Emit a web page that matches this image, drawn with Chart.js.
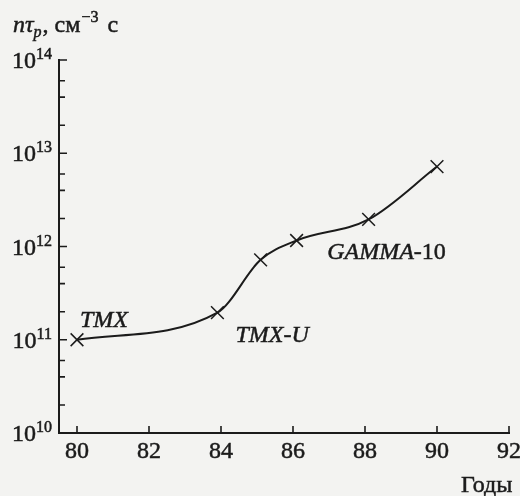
<!DOCTYPE html>
<html>
<head>
<meta charset="utf-8">
<script src="https://cdn.jsdelivr.net/npm/chart.js@4.4.1/dist/chart.umd.min.js"></script>
<style>
    html, body { margin: 0; padding: 0; background: #f3f3f1; }
    #wrap { width: 520px; height: 496px; }
</style>
</head>
<body>
<div id="wrap"><canvas id="chart" width="520" height="496"></canvas></div>
<script>
// data
const years = [80, 83.9, 85.1, 86.1, 88.1, 90];
const ntau = [1e11, 1.95e11, 7.2e11, 1.16e12, 1.95e12, 7.2e12];
const xTicks = [80, 82, 84, 86, 88, 90, 92];
const yExponents = [10, 11, 12, 13, 14];
const yMinor = [2, 4, 6];

const INK = '#1b1b1b';
const SERIF = 'Liberation Serif';

// device labels, anchored in data coords (left edge / baseline)
const deviceLabels = [
    { parts: [['TMX', 'italic']], x: 80.08, y: 1.38e11 },
    { parts: [['TMX-U', 'italic']], x: 84.4, y: 0.94e11 },
    { parts: [['GAMMA', 'italic'], ['-10', 'normal']], x: 86.95, y: 7.4e11 }
];

// scanned print looks a bit heavier than plain regular weight
function inkText(ctx, s, x, y) {
    ctx.fillText(s, x, y);
    ctx.strokeText(s, x, y);
}

// parts: [text, style, size, dy, gapBefore]
function drawParts(ctx, parts, x, y) {
    parts.forEach(p => {
        ctx.font = `${p[1]} ${p[2] || 24}px "${SERIF}"`;
        x += p[4] || 0;
        inkText(ctx, p[0], x, y + (p[3] || 0));
        x += ctx.measureText(p[0]).width;
    });
}

const axisPlugin = {
    id: 'axisPlugin',
    afterDraw(chart) {
        const ctx = chart.ctx;
        const xs = chart.scales.x;
        const ys = chart.scales.y;
        const left = chart.chartArea.left;
        const bottom = chart.chartArea.bottom;

        ctx.save();
        ctx.strokeStyle = INK;
        ctx.fillStyle = INK;
        ctx.lineWidth = 1.6;

        /* ---- tick marks (inside) ---- */
        ctx.beginPath();
        xTicks.forEach(v => {
            const px = xs.getPixelForValue(v);
            ctx.moveTo(px, bottom);
            ctx.lineTo(px, bottom - 7);
        });
        yExponents.forEach(e => {
            const py = ys.getPixelForValue(Math.pow(10, e));
            ctx.moveTo(left, py);
            ctx.lineTo(left + 8, py);
            if (e < 14) {
                yMinor.forEach(m => {
                    const pm = ys.getPixelForValue(m * Math.pow(10, e));
                    ctx.moveTo(left, pm);
                    ctx.lineTo(left + 6, pm);
                });
            }
        });
        ctx.stroke();

        ctx.lineWidth = 0.5;
        ctx.textBaseline = 'alphabetic';

        /* ---- x labels ---- */
        ctx.textAlign = 'center';
        ctx.font = `24px "${SERIF}"`;
        xTicks.forEach(v => {
            inkText(ctx, String(v), xs.getPixelForValue(v), bottom + 25);
        });

        /* ---- y labels 10^n ---- */
        ctx.textAlign = 'left';
        yExponents.forEach(e => {
            const py = ys.getPixelForValue(Math.pow(10, e));
            ctx.font = `16px "${SERIF}"`;
            const ew = ctx.measureText(String(e)).width;
            ctx.font = `24px "${SERIF}"`;
            const bw = ctx.measureText('10').width;
            const right = 52;
            inkText(ctx, '10', right - ew - bw, py + 8);
            ctx.font = `16px "${SERIF}"`;
            inkText(ctx, String(e), right - ew, py - 1);
        });

        /* ---- axis title ---- */
        drawParts(ctx, [
            ['n', 'italic', 24],
            ['τ', 'italic', 24],
            ['p', 'italic', 16, 5],
            [', см', 'normal', 24, 0, 1],
            ['−3', 'normal', 16, -10, 1],
            ['с', 'normal', 24, 0, 9]
        ], 13, 32);

        ctx.font = `24px "${SERIF}"`;
        inkText(ctx, 'Годы', 461, 492);

        /* ---- device labels ---- */
        deviceLabels.forEach(l => {
            drawParts(ctx, l.parts, xs.getPixelForValue(l.x), ys.getPixelForValue(l.y));
        });

        ctx.restore();
    }
};

function draw() {
    new Chart(document.getElementById('chart').getContext('2d'), {
        type: 'line',
        data: {
            datasets: [{
                data: years.map((x, i) => ({ x: x, y: ntau[i] })),
                borderColor: INK,
                borderWidth: 2,
                cubicInterpolationMode: 'monotone',
                fill: false,
                pointStyle: 'crossRot',
                pointRadius: 9,
                pointBorderWidth: 1.5,
                pointBorderColor: INK
            }]
        },
        options: {
            responsive: false,
            animation: false,
            layout: { padding: { top: 60, right: 11, left: 0, bottom: 0 } },
            plugins: { legend: { display: false }, tooltip: { enabled: false } },
            scales: {
                x: {
                    type: 'linear',
                    min: 79.5,
                    max: 92,
                    grid: { display: false, drawTicks: false },
                    border: { color: INK, width: 2 },
                    ticks: { display: false, stepSize: 2 },
                    afterFit(s) { s.height = 63; }
                },
                y: {
                    type: 'logarithmic',
                    min: 1e10,
                    max: 1e14,
                    grid: { display: false, drawTicks: false },
                    border: { color: INK, width: 2 },
                    ticks: { display: false },
                    afterFit(s) { s.width = 59; }
                }
            }
        },
        plugins: [axisPlugin]
    });
}

Promise.all([
    document.fonts.load(`24px "${SERIF}"`),
    document.fonts.load(`italic 24px "${SERIF}"`)
]).then(draw, draw);
</script>
</body>
</html>
